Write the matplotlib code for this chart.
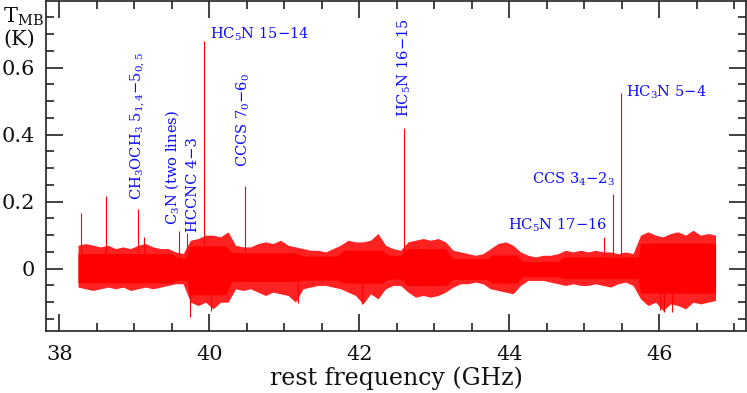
import numpy as np
import matplotlib
matplotlib.use("Agg")
import matplotlib.pyplot as plt
from matplotlib.ticker import MultipleLocator, FuncFormatter

plt.rcParams['font.family'] = ['DejaVu Serif']
plt.rcParams['mathtext.fontset'] = 'dejavuserif'

# ---- data ----
# noise core envelope (K)
core_freq = [38.25, 39.50, 39.56, 39.71, 39.73, 40.22, 40.30, 41.15, 41.25, 41.70,
             41.80, 42.30, 42.40, 42.56, 42.64, 43.15, 43.25, 43.70, 43.78, 44.10,
             44.18, 44.65, 44.72, 45.72, 45.75, 46.75]
core_hi = [0.045, 0.045, 0.033, 0.033, 0.068, 0.068, 0.048, 0.048, 0.038, 0.038,
           0.055, 0.055, 0.040, 0.040, 0.060, 0.060, 0.030, 0.030, 0.041, 0.041,
           0.022, 0.022, 0.035, 0.035, 0.076, 0.076]
core_lo = [-0.042, -0.042, -0.035, -0.035, -0.078, -0.078, -0.038, -0.038, -0.034, -0.034,
           -0.043, -0.043, -0.031, -0.031, -0.050, -0.050, -0.032, -0.032, -0.043, -0.043,
           -0.024, -0.024, -0.030, -0.030, -0.073, -0.073]

# noise fringe (occasional excursions) sampled every 0.1 GHz
fringe_freq = [38.25, 38.35, 38.45, 38.55, 38.65, 38.75, 38.85, 38.95, 39.05, 39.15,
               39.25, 39.35, 39.45, 39.55, 39.65, 39.75, 39.85, 39.95, 40.05, 40.15,
               40.25, 40.35, 40.45, 40.55, 40.65, 40.75, 40.85, 40.95, 41.05, 41.15,
               41.25, 41.35, 41.45, 41.55, 41.65, 41.75, 41.85, 41.95, 42.05, 42.15,
               42.25, 42.35, 42.45, 42.55, 42.65, 42.75, 42.85, 42.95, 43.05, 43.15,
               43.25, 43.35, 43.45, 43.55, 43.65, 43.75, 43.85, 43.95, 44.05, 44.15,
               44.25, 44.35, 44.45, 44.55, 44.65, 44.75, 44.85, 44.95, 45.05, 45.15,
               45.25, 45.35, 45.45, 45.55, 45.65, 45.75, 45.85, 45.95, 46.05, 46.15,
               46.25, 46.35, 46.45, 46.55, 46.65, 46.75]
fringe_hi = [0.070, 0.075, 0.070, 0.065, 0.070, 0.060, 0.065, 0.060, 0.070, 0.075,
             0.065, 0.060, 0.060, 0.050, 0.045, 0.085, 0.090, 0.100, 0.100, 0.095,
             0.110, 0.070, 0.065, 0.065, 0.075, 0.080, 0.075, 0.085, 0.070, 0.065,
             0.060, 0.055, 0.055, 0.050, 0.060, 0.070, 0.085, 0.080, 0.080, 0.085,
             0.105, 0.070, 0.060, 0.055, 0.080, 0.085, 0.090, 0.085, 0.090, 0.080,
             0.055, 0.050, 0.045, 0.040, 0.045, 0.060, 0.075, 0.080, 0.070, 0.050,
             0.040, 0.035, 0.040, 0.040, 0.045, 0.055, 0.050, 0.055, 0.050, 0.055,
             0.050, 0.050, 0.045, 0.050, 0.045, 0.100, 0.110, 0.100, 0.095, 0.105,
             0.110, 0.100, 0.115, 0.100, 0.105, 0.100]
fringe_lo = [-0.055, -0.060, -0.065, -0.060, -0.055, -0.060, -0.055, -0.065, -0.060, -0.055,
             -0.060, -0.055, -0.050, -0.045, -0.045, -0.100, -0.110, -0.100, -0.120, -0.100,
             -0.100, -0.060, -0.065, -0.060, -0.070, -0.080, -0.070, -0.075, -0.080, -0.100,
             -0.060, -0.055, -0.050, -0.050, -0.055, -0.060, -0.070, -0.080, -0.105, -0.075,
             -0.090, -0.060, -0.050, -0.050, -0.070, -0.085, -0.080, -0.085, -0.080, -0.070,
             -0.055, -0.045, -0.045, -0.040, -0.045, -0.060, -0.065, -0.070, -0.075, -0.050,
             -0.035, -0.035, -0.035, -0.040, -0.045, -0.050, -0.045, -0.050, -0.050, -0.045,
             -0.050, -0.055, -0.045, -0.040, -0.050, -0.090, -0.110, -0.100, -0.125, -0.105,
             -0.110, -0.120, -0.100, -0.105, -0.100, -0.095]

# strong emission lines: frequency (GHz), peak T_MB (K)
line_freq = [38.29, 38.62, 39.045, 39.13, 39.59, 39.70, 39.935, 40.47, 42.60, 45.263, 45.379, 45.487]
line_peak = [0.166, 0.218, 0.179, 0.096, 0.111, 0.107, 0.679, 0.246, 0.421, 0.096, 0.224, 0.523]

# deep negative noise spikes
dip_freq = [39.74, 40.02, 41.18, 42.03, 46.01, 46.06, 46.17]
dip_val = [-0.144, -0.126, -0.103, -0.106, -0.124, -0.130, -0.129]

# labels: text, x (GHz), y (K)
labels_rot = [
    (r'CH$_3$OCH$_3$ 5$_{1,4}$−5$_{0,5}$', 39.05, 0.205),
    (r'C$_3$N (two lines)', 39.50, 0.130),
    ('HCCNC 4−3', 39.78, 0.110),
    (r'CCCS 7$_0$−6$_0$', 40.46, 0.304),
    (r'HC$_5$N 16−15', 42.60, 0.453),
]
labels_hor = [
    (r'HC$_5$N 15−14', 40.01, 0.688),
    (r'HC$_3$N 5−4', 45.55, 0.515),
    (r'CCS 3$_4$−2$_3$', 44.30, 0.255),
    (r'HC$_5$N 17−16', 43.98, 0.1155),
]

# ---- figure ----
fig = plt.figure(figsize=(7.47, 3.93), dpi=100)
ax = fig.add_axes([46/747, 1-331/393, 700/747, 330/393])

red = '#ff0000'
ax.fill_between(fringe_freq, fringe_lo, fringe_hi, color='#ff2222', lw=0, zorder=1)
ax.fill_between(core_freq, core_lo, core_hi, color=red, lw=0, zorder=3)
ax.vlines(line_freq, 0, line_peak, color=red, lw=0.8, zorder=4)
ax.vlines(dip_freq, 0, dip_val, color=red, lw=0.8, zorder=4)

blue = '#0a0aff'
for t, x, y in labels_rot:
    ax.text(x, y, t, rotation=90, ha='center', va='bottom', color=blue, fontsize=10.5)
for t, x, y in labels_hor:
    ax.text(x, y, t, ha='left', va='baseline', color=blue, fontsize=10.5)

ax.set_xlim(37.823, 47.156)
ax.set_ylim(-0.186, 0.799)

ax.xaxis.set_major_locator(MultipleLocator(2))
ax.xaxis.set_minor_locator(MultipleLocator(0.5))
ax.yaxis.set_major_locator(MultipleLocator(0.2))
ax.yaxis.set_minor_locator(MultipleLocator(0.05))
ax.yaxis.set_major_formatter(FuncFormatter(lambda v, p: '0' if abs(v) < 1e-9 else f'{v:.1f}'))
ax.tick_params(which='both', direction='in', top=True, right=True, colors='#222222',
               labelcolor='#111111', labelsize=15, width=1.2)
ax.tick_params(which='major', length=12)
ax.tick_params(axis='x', which='major', pad=10)
ax.tick_params(axis='y', which='major', pad=8)
ax.tick_params(which='minor', length=6)
for s in ax.spines.values():
    s.set_linewidth(1.2)
    s.set_color('#222222')

ax.set_xlabel('rest frequency (GHz)', fontsize=17, color='#111111', labelpad=2)
fig.text(3/747, 1-23/393, r'T$_{\rm MB}$', fontsize=15, color='#111111', va='baseline', ha='left')
fig.text(3/747, 1-45/393, '(K)', fontsize=15, color='#111111', va='baseline', ha='left')

fig.savefig('out.png', dpi=100)
